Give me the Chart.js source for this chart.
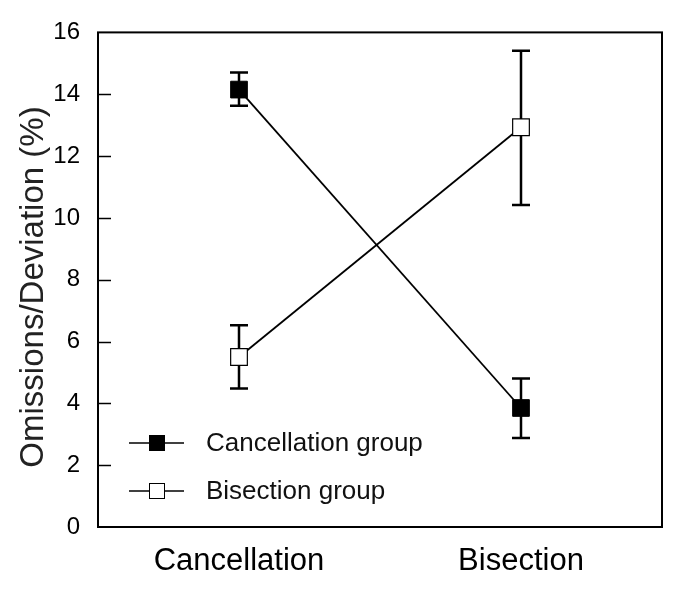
<!DOCTYPE html>
<html>
<head>
<meta charset="utf-8">
<script src="https://cdn.jsdelivr.net/npm/chart.js@4/dist/chart.umd.min.js"></script>
<style>
  html, body { margin: 0; padding: 0; background: #fff; }
  #wrap { width: 685px; height: 590px; }
</style>
</head>
<body>
<div id="wrap"><canvas id="chart"></canvas></div>
<script>
// --- data ---
const categories = ['Cancellation', 'Bisection'];
const cancelGroup = [14.15, 3.85];
const cancelLow = [13.63, 2.88];
const cancelHigh = [14.7, 4.8];
const bisectGroup = [5.5, 12.93];
const bisectLow = [4.48, 10.42];
const bisectHigh = [6.53, 15.41];
const yTicks = [0, 2, 4, 6, 8, 10, 12, 14, 16];

const FONT = '"Liberation Sans", Arial, Helvetica, sans-serif';

// error bars under the markers
const errorBars = {
    id: 'errorBars',
    beforeDatasetsDraw(chart) {
        const ctx = chart.ctx;
        const y = chart.scales.y;
        const ranges = [[cancelLow, cancelHigh], [bisectLow, bisectHigh]];
        ctx.save();
        ctx.strokeStyle = '#000';
        ctx.lineWidth = 2.5;
        ranges.forEach((r, di) => {
            chart.getDatasetMeta(di).data.forEach((pt, i) => {
                const yl = y.getPixelForValue(r[0][i]);
                const yh = y.getPixelForValue(r[1][i]);
                ctx.beginPath();
                ctx.moveTo(pt.x, yl); ctx.lineTo(pt.x, yh);
                ctx.moveTo(pt.x - 9, yl); ctx.lineTo(pt.x + 9, yl);
                ctx.moveTo(pt.x - 9, yh); ctx.lineTo(pt.x + 9, yh);
                ctx.stroke();
            });
        });
        ctx.restore();
    }
};

// frame, inward ticks, axis title, legend
const decor = {
    id: 'decor',
    afterDraw(chart) {
        const ctx = chart.ctx;
        const a = chart.chartArea;
        const y = chart.scales.y;
        ctx.save();
        ctx.strokeStyle = '#000';
        ctx.lineWidth = 2;
        ctx.strokeRect(a.left, a.top, a.right - a.left, a.bottom - a.top);

        ctx.lineWidth = 1.5;
        yTicks.slice(1, -1).forEach(v => {
            const py = Math.round(y.getPixelForValue(v)) + 0.5;
            ctx.beginPath();
            ctx.moveTo(a.left, py); ctx.lineTo(a.left + 13, py);
            ctx.stroke();
        });

        // y title
        ctx.fillStyle = '#222';
        ctx.font = '33px ' + FONT;
        ctx.textAlign = 'center';
        ctx.textBaseline = 'alphabetic';
        ctx.translate(43, 287);
        ctx.rotate(-Math.PI / 2);
        ctx.fillText('Omissions/Deviation (%)', 0, 0);
        ctx.restore();

        // legend
        ctx.save();
        const items = [
            { label: 'Cancellation group', fill: '#000', y: 443 },
            { label: 'Bisection group', fill: '#fff', y: 491 }
        ];
        items.forEach(it => {
            ctx.strokeStyle = '#000';
            ctx.lineWidth = 1.5;
            ctx.beginPath();
            ctx.moveTo(129, it.y); ctx.lineTo(184, it.y);
            ctx.stroke();
            ctx.fillStyle = it.fill;
            ctx.fillRect(149, it.y - 8, 16, 16);
            ctx.lineWidth = 1;
            ctx.strokeRect(149.5, it.y - 7.5, 15, 15);
            ctx.fillStyle = '#111';
            ctx.font = '26px ' + FONT;
            ctx.textAlign = 'left';
            ctx.textBaseline = 'middle';
            ctx.fillText(it.label, 206, it.y + 1);
        });
        ctx.restore();
    }
};

new Chart(document.getElementById('chart'), {
    type: 'line',
    data: {
        labels: categories,
        datasets: [
            {
                label: 'Cancellation group',
                data: cancelGroup,
                borderColor: '#000',
                borderWidth: 1.8,
                pointStyle: 'rect',
                pointRadius: 11.8,
                pointBackgroundColor: '#000',
                pointBorderColor: '#000',
                pointBorderWidth: 1
            },
            {
                label: 'Bisection group',
                data: bisectGroup,
                borderColor: '#000',
                borderWidth: 1.8,
                pointStyle: 'rect',
                pointRadius: 11.8,
                pointBackgroundColor: '#fff',
                pointBorderColor: '#000',
                pointBorderWidth: 1.2
            }
        ]
    },
    options: {
        responsive: true,
        maintainAspectRatio: false,
        animation: false,
        events: [],
        layout: { padding: { top: 27, right: 23, left: 0, bottom: 0 } },
        plugins: {
            legend: { display: false },
            tooltip: { enabled: false }
        },
        scales: {
            x: {
                type: 'category',
                offset: true,
                grid: { display: false, drawTicks: false },
                border: { display: false },
                ticks: {
                    color: '#000',
                    font: { family: FONT, size: 31 },
                    padding: 16
                },
                afterFit(scale) { scale.height = 63; }
            },
            y: {
                min: 0,
                max: 16,
                grid: { display: false, drawTicks: false },
                border: { display: false },
                afterBuildTicks(scale) {
                    scale.ticks = yTicks.map(v => ({ value: v }));
                },
                ticks: {
                    color: '#000',
                    font: { family: FONT, size: 24 },
                    padding: 18
                },
                afterFit(scale) { scale.width = 98; }
            }
        }
    },
    plugins: [errorBars, decor]
});
</script>
</body>
</html>
